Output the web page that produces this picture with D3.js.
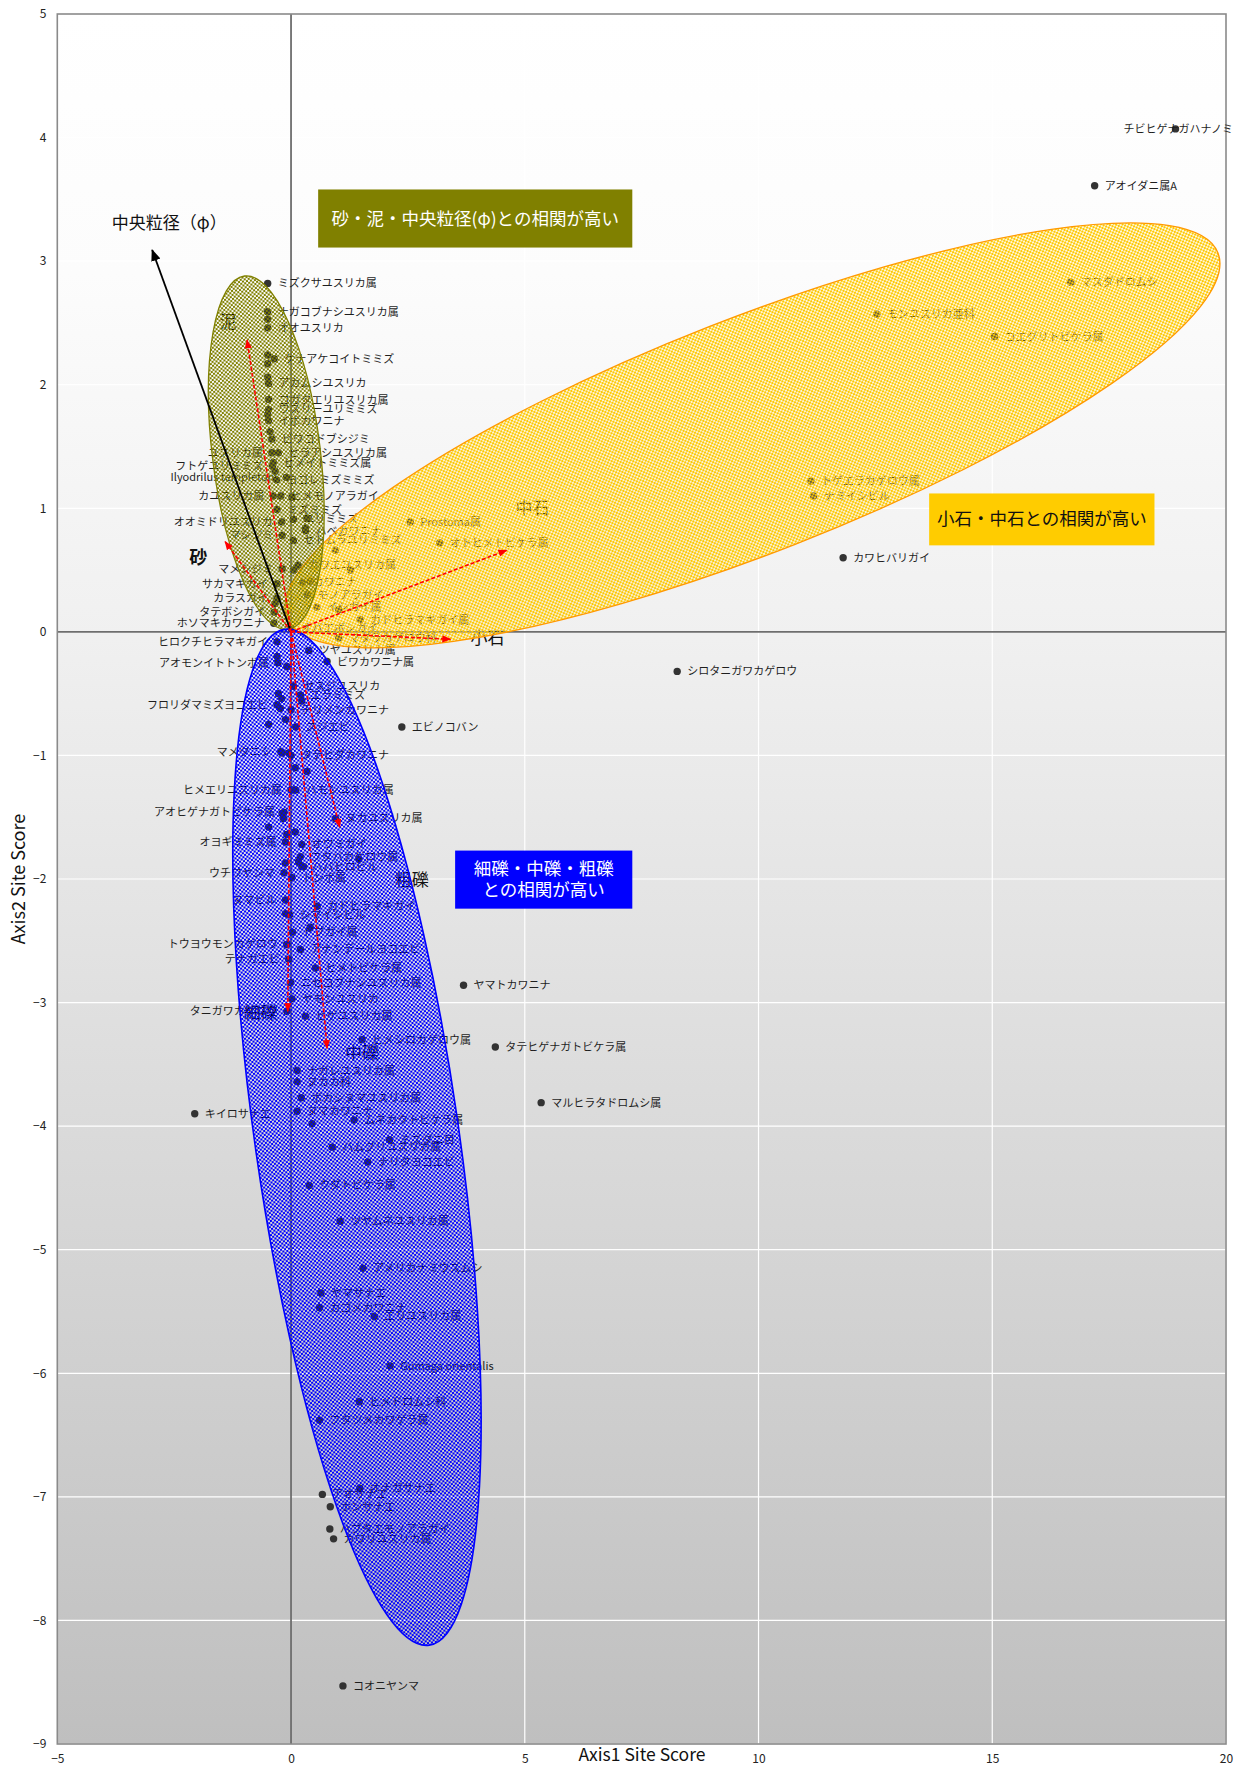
<!DOCTYPE html>
<html>
<head>
<meta charset="utf-8">
<script src="https://cdn.jsdelivr.net/npm/d3@7"></script>
<style>
  body { margin: 0; background: #ffffff; }
  svg text { font-family: "Noto Sans CJK JP", "Noto Sans", sans-serif; }
</style>
</head>
<body>
<svg id="chart" width="1242" height="1767"></svg>
<script>
// ---- species site scores (Axis1, Axis2) ----
const speciesNames = [
  "ミズクサユスリカ属","ナガコブナシユスリカ属","オオユスリカ","ケナアケコイトミミズ","アカムシユスリカ",
  "コガタエリユスリカ属","ウスリーユリミミズ","イボカワニナ","ビワコドブシジミ","ヒラアシユスリカ属",
  "ユスリカ属","ヒメイトミミズ属","フトゲユリミミズ","Ilyodrilus templetoni","ヨゴレミズミミズ",
  "カユスリカ属","ヒメモノアラガイ","ミズミミズ","ユリミミズ","オオミドリユスリカ",
  "ハベカワニナ","セトムラユリミミズ","マシジミ","カワエユスリカ属","マメシジミ",
  "サカマキガイ","カワニナ","カラスガイ","モノアラガイ","タテボシガイ",
  "イシガイ属","カドヒラマキガイ属","ホソマキカワニナ","オバエボシガイ","マダラカゲロウ科",
  "ヒロクチヒラマキガイ","ツヤユスリカ属","ビワカワニナ属","アオモンイトトンボ属","セスジユスリカ",
  "エラミミズ","フロリダマミズヨコエビ","チリメンカワニナ","スジエビ","エビノコバン",
  "マメタニシ","タテヒダカワニナ","ヒメエリユスリカ属","ハモンユスリカ属","アオヒゲナガトビケラ属",
  "ヌカユスリカ属","オヨギミミズ属","オウミガイ","フタバカゲロウ属","ハバヒロビル",
  "ウチワヤンマ","トンボ属","ヌマビル","カドヒラマキガイ","シマイシビル",
  "ドブガイ属","トウヨウモンカゲロウ","アナンデールヨコエビ","テナガエビ","ヒメトビケラ属",
  "ニセコブナシユスリカ属","ヤモンユスリカ","タニガワカゲロウ","ヒゲユスリカ属","ヒメシロカゲロウ属",
  "ナガレユスリカ属","ヌカカ科","ボカシヌマユスリカ属","ヌマカワニナ","ムネカクトビケラ属",
  "ミズダニ目","ハムグリユスリカ属","ナリタヨコエビ","クダトビケラ属","ツヤムネユスリカ属",
  "アメリカナミウズムシ","ヤマサナエ","カゴメカワニナ","エリユスリカ属","Gumaga orientalis",
  "ヒメドロムシ科","フタツメカワゲラ属","オナガサナエ","アオサナエ","ホンサナエ",
  "ハブタエモノアラガイ","カワリユスリカ属","コオニヤンマ","キイロサナエ","ヤマトカワニナ",
  "タテヒゲナガトビケラ属","マルヒラタドロムシ属","シロタニガワカゲロウ","カワヒバリガイ","ナミイシビル",
  "トゲエラカゲロウ属","Prostoma属","オトヒメトビケラ属","モンユスリカ亜科","マスダドロムシ",
  "コエグリトビケラ属","アオイダニ属A","チビヒゲナガハナノミ"
];
const axis1Scores = [
  -0.50,-0.50,-0.50,-0.36,-0.48,
  -0.48,-0.48,-0.48,-0.41,-0.27,
  -0.41,-0.38,-0.40,-0.10,-0.31,
  -0.38,-0.22,-0.30,0.05,-0.20,
  0.31,0.05,-0.19,0.15,-0.19,
  -0.30,0.25,-0.30,0.35,-0.36,
  0.55,1.48,-0.37,0.00,1.02,
  -0.30,0.38,0.77,-0.28,0.05,
  0.20,-0.30,0.00,0.10,2.37,
  -0.22,0.00,0.00,0.10,-0.15,
  0.95,-0.12,0.23,0.20,0.23,
  -0.15,0.02,-0.12,0.56,-0.03,
  0.03,-0.09,0.20,-0.05,0.52,
  -0.01,0.02,-0.09,0.31,1.52,
  0.13,0.13,0.22,0.13,1.35,
  2.11,0.88,1.64,0.39,1.05,
  1.54,0.64,0.61,1.78,2.12,
  1.46,0.61,1.47,0.67,0.84,
  0.83,0.91,1.11,-2.06,3.69,
  4.37,5.35,8.26,11.81,11.18,
  11.12,2.55,3.18,12.53,16.68,
  15.05,17.19,18.92
];
const axis2Scores = [
  2.82,2.59,2.46,2.21,2.01,
  1.88,1.80,1.71,1.56,1.45,
  1.45,1.37,1.34,1.25,1.23,
  1.10,1.10,0.99,0.91,0.89,
  0.82,0.74,0.78,0.54,0.51,
  0.39,0.40,0.27,0.30,0.16,
  0.20,0.10,0.07,0.03,-0.05,
  -0.08,-0.15,-0.24,-0.25,-0.44,
  -0.51,-0.59,-0.63,-0.77,-0.77,
  -0.97,-1.00,-1.28,-1.28,-1.46,
  -1.51,-1.70,-1.72,-1.82,-1.90,
  -1.95,-1.99,-2.17,-2.22,-2.29,
  -2.43,-2.53,-2.57,-2.65,-2.72,
  -2.84,-2.97,-3.07,-3.11,-3.30,
  -3.55,-3.64,-3.77,-3.88,-3.95,
  -4.11,-4.17,-4.29,-4.48,-4.77,
  -5.15,-5.35,-5.47,-5.54,-5.94,
  -6.23,-6.38,-6.93,-6.98,-7.08,
  -7.26,-7.34,-8.53,-3.90,-2.86,
  -3.36,-3.81,-0.32,0.60,1.10,
  1.22,0.89,0.72,2.57,2.83,
  2.39,3.61,4.07
];
// species whose label sits on the left of the point
const leftLabelled = new Set([
  "ユスリカ属","フトゲユリミミズ","Ilyodrilus templetoni","カユスリカ属","オオミドリユスリカ",
  "マシジミ","マメシジミ","サカマキガイ","カラスガイ","タテボシガイ","ホソマキカワニナ",
  "ヒロクチヒラマキガイ","アオモンイトトンボ属","フロリダマミズヨコエビ","マメタニシ",
  "ヒメエリユスリカ属","アオヒゲナガトビケラ属","オヨギミミズ属","ウチワヤンマ","ヌマビル",
  "トウヨウモンカゲロウ","テナガエビ","タニガワカゲロウ"
]);
// further site scores whose labels are hidden under neighbours
const unlabelledAxis1 = [-0.50,-0.50,-0.50,-0.50,-0.50,0.02,0.34,0.31,0.95,1.27,0.06,0.41,-0.34,1.02,
  -0.30,-0.09,-0.27,-0.20,0.23,-0.23,-0.48,-0.12,-0.19,-0.05,0.09,0.34,0.06,-0.19,-0.16,-0.48,0.09,
  -0.09,-0.12,0.27,1.45,0.16,-0.12,0.41,-0.09,0.45,-0.34,-0.45];
const unlabelledAxis2 = [2.53,2.24,2.17,2.06,1.76,1.09,0.92,0.84,0.66,0.50,0.50,0.41,0.23,0.18,
  -0.20,-0.28,-0.50,-0.54,-0.56,-0.62,-0.75,-0.71,-0.98,-0.98,-1.10,-1.13,-1.28,-1.47,-1.51,-1.58,-1.62,
  -1.64,-1.87,-1.90,-1.84,-1.86,-2.28,-2.39,-2.53,-3.98,1.30,1.62];

// ---- environmental vectors ----
const vectorNames = ["中央粒径（φ）","泥","砂","中石","小石","粗礫","細礫","中礫"];
const vectorAxis1 = [-2.97,-0.94,-1.41,4.61,3.41,1.04,-0.07,0.77];
const vectorAxis2 = [3.09,2.36,0.73,0.66,-0.06,-1.58,-3.07,-3.37];

// ---- axis ticks ----
const xTickValues = [-5,0,5,10,15,20];
const yTickValues = [-9,-8,-7,-6,-5,-4,-3,-2,-1,0,1,2,3,4,5];

// ---- layout ----
const plot = {left: 57.3, right: 1226, top: 14, bottom: 1744};
const x = d3.scaleLinear().domain([-5, 20]).range([plot.left, plot.right]);
const y = d3.scaleLinear().domain([-9, 5]).range([plot.bottom, plot.top]);

const svg = d3.select("#chart");
const defs = svg.append("defs");

// background gradient of the plot area
const grad = defs.append("linearGradient").attr("id", "bg").attr("x1", 0).attr("y1", 0).attr("x2", 0).attr("y2", 1);
grad.append("stop").attr("offset", "0%").attr("stop-color", "#ffffff");
grad.append("stop").attr("offset", "15%").attr("stop-color", "#fcfcfc");
grad.append("stop").attr("offset", "36%").attr("stop-color", "#f0f0f0");
grad.append("stop").attr("offset", "100%").attr("stop-color", "#bfbfbf");

// pixel trellis fills for the grouping ellipses (diagonal cross in a 4x4 cell)
function trellis(id, color, holeTint) {
  const p = defs.append("pattern").attr("id", id)
    .attr("patternUnits", "userSpaceOnUse").attr("width", 4).attr("height", 4);
  if (holeTint) p.append("rect").attr("width", 4).attr("height", 4)
    .attr("fill", holeTint).attr("fill-opacity", 0.25);
  const cells = [[0,0],[1,1],[2,2],[3,3],[0,3],[1,2],[2,1],[3,0]];
  cells.forEach(([i, j]) => p.append("rect").attr("x", i).attr("y", j)
    .attr("width", 1).attr("height", 1).attr("fill", color).attr("shape-rendering", "crispEdges"));
}
trellis("hatchOlive", "#808000");
trellis("hatchBlue", "#0000ff");
trellis("hatchGold", "#ffc800", "#ffe680");

// arrow markers
function marker(id, color, size) {
  defs.append("marker").attr("id", id)
    .attr("viewBox", "0 0 10 10").attr("refX", 9).attr("refY", 5)
    .attr("markerUnits", "userSpaceOnUse")
    .attr("markerWidth", size).attr("markerHeight", size).attr("orient", "auto")
    .append("path").attr("d", "M0,1 L10,5 L0,9 Z").attr("fill", color);
}
marker("arrowBlack", "#000000", 12);
marker("arrowRed", "#ff0000", 9);

// plot background
svg.append("rect")
  .attr("x", plot.left).attr("y", plot.top)
  .attr("width", plot.right - plot.left).attr("height", plot.bottom - plot.top)
  .attr("fill", "url(#bg)");

// grid
const grid = svg.append("g").attr("stroke", "#ffffff").attr("stroke-width", 1.2);
yTickValues.forEach(v => grid.append("line")
  .attr("x1", plot.left).attr("x2", plot.right).attr("y1", y(v)).attr("y2", y(v)));
xTickValues.filter(v => v !== 0).forEach(v => grid.append("line")
  .attr("x1", x(v)).attr("x2", x(v)).attr("y1", plot.top).attr("y2", plot.bottom));

// zero lines
svg.append("line").attr("x1", x(0)).attr("x2", x(0)).attr("y1", plot.top).attr("y2", plot.bottom)
  .attr("stroke", "#6e6e6e").attr("stroke-width", 1.8);
svg.append("line").attr("x1", plot.left).attr("x2", plot.right).attr("y1", y(0)).attr("y2", y(0))
  .attr("stroke", "#6e6e6e").attr("stroke-width", 1.8);

// plot frame
svg.append("rect")
  .attr("x", plot.left).attr("y", plot.top)
  .attr("width", plot.right - plot.left).attr("height", plot.bottom - plot.top)
  .attr("fill", "none").attr("stroke", "#8a8a8a").attr("stroke-width", 1.6);

// axes (tick labels only)
const fmt = d => d < 0 ? "\u2212" + Math.abs(d) : String(d);
const gx = svg.append("g").attr("transform", `translate(0,${plot.bottom})`)
  .call(d3.axisBottom(x).tickValues(xTickValues).tickSize(0).tickPadding(10).tickFormat(fmt));
const gy = svg.append("g").attr("transform", `translate(${plot.left},0)`)
  .call(d3.axisLeft(y).tickValues(yTickValues).tickSize(0).tickPadding(11).tickFormat(fmt));
[gx, gy].forEach(g => {
  g.select(".domain").remove();
  g.selectAll("text").attr("font-family", "'Liberation Sans', Arial, sans-serif")
    .attr("font-size", 12).attr("fill", "#222");
});

// axis titles
svg.append("text").attr("x", 642).attr("y", 1761).attr("text-anchor", "middle")
  .attr("font-size", 17.5).attr("fill", "#111").text("Axis1 Site Score");
svg.append("text").attr("transform", `translate(25,${(plot.top + plot.bottom) / 2}) rotate(-90)`)
  .attr("text-anchor", "middle").attr("font-size", 18).attr("fill", "#111").text("Axis2 Site Score");

// species points
const species = speciesNames.map((n, i) => ({name: n, a1: axis1Scores[i], a2: axis2Scores[i]}));
const extras = unlabelledAxis1.map((v, i) => ({a1: v, a2: unlabelledAxis2[i]}));

const gPts = svg.append("g").attr("fill", "#333333");
extras.forEach(d => gPts.append("circle").attr("cx", x(d.a1)).attr("cy", y(d.a2)).attr("r", 3.7));
species.forEach(d => gPts.append("circle").attr("cx", x(d.a1)).attr("cy", y(d.a2)).attr("r", 3.7));

const gLab = svg.append("g").attr("font-size", 11).attr("fill", "#1e1e1e");
species.forEach(d => {
  const left = leftLabelled.has(d.name);
  const t = gLab.append("text")
    .attr("x", x(d.a1) + (left ? -9 : 10))
    .attr("y", y(d.a2) + 4)
    .attr("text-anchor", left ? "end" : "start")
    .text(d.name);
  if (!left) {
    const w = t.node().getComputedTextLength();
    if (x(d.a1) + 10 + w > plot.right + 7) t.attr("x", plot.right + 7 - w);
  }
});

// vector names (drawn under the ellipses)
const vectorLabelNudge = {
  "中央粒径（φ）": [17, -21], "泥": [-19, -12], "砂": [-27, 22], "中石": [26, -36],
  "小石": [37, 5], "粗礫": [72, 59], "細礫": [-27, 8], "中礫": [35, 11]
};
const vectors = vectorNames.map((n, i) => ({name: n, a1: vectorAxis1[i], a2: vectorAxis2[i]}));
vectors.forEach(d => {
  const [dx, dy] = vectorLabelNudge[d.name];
  svg.append("text").attr("x", x(d.a1) + dx).attr("y", y(d.a2) + dy)
    .attr("text-anchor", "middle").attr("font-size", d.name === "砂" ? 18 : 17)
    .attr("font-weight", d.name === "砂" ? 700 : 400)
    .attr("fill", "#111").text(d.name);
});

// grouping ellipses (centre in scores, semi-axes in px, tilt in degrees)
const groups = [
  {fill: "url(#hatchGold)", stroke: "#ff9900", c: [9.87, 1.59], rx: 500, ry: 117, tilt: -21.4, sw: 1.3},
  {fill: "url(#hatchOlive)", stroke: "#808000", c: [-0.53, 1.45], rx: 54, ry: 178, tilt: -7, sw: 1.3},
  {fill: "url(#hatchBlue)", stroke: "#0000ff", c: [1.41, -4.09], rx: 102, ry: 513, tilt: -8.1, sw: 1.6}
];
groups.forEach(g => {
  const cx = x(g.c[0]), cy = y(g.c[1]);
  svg.append("ellipse").attr("cx", cx).attr("cy", cy).attr("rx", g.rx).attr("ry", g.ry)
    .attr("transform", `rotate(${g.tilt},${cx},${cy})`)
    .attr("fill", g.fill).attr("stroke", g.stroke).attr("stroke-width", g.sw);
});

// environmental vectors from the origin
vectors.forEach(d => {
  const black = d.name === "中央粒径（φ）";
  svg.append("line").attr("x1", x(0)).attr("y1", y(0)).attr("x2", x(d.a1)).attr("y2", y(d.a2))
    .attr("stroke", black ? "#000" : "#ff0000")
    .attr("stroke-width", black ? 1.8 : 1.6)
    .attr("stroke-dasharray", black ? null : "4,2")
    .attr("marker-end", black ? "url(#arrowBlack)" : "url(#arrowRed)");
});

// callout boxes
const callouts = [
  {x0: 0.58, x1: 7.30, y0: 3.58, y1: 3.11, fill: "#808000", color: "#ffffff",
   lines: ["砂・泥・中央粒径(φ)との相関が高い"]},
  {x0: 13.65, x1: 18.47, y0: 1.12, y1: 0.70, fill: "#ffcc00", color: "#111111",
   lines: ["小石・中石との相関が高い"]},
  {x0: 3.51, x1: 7.30, y0: -1.77, y1: -2.24, fill: "#0000ff", color: "#ffffff",
   lines: ["細礫・中礫・粗礫", "との相関が高い"]}
];
callouts.forEach(c => {
  const bx = x(c.x0), by = y(c.y0), bw = x(c.x1) - x(c.x0), bh = y(c.y1) - y(c.y0);
  svg.append("rect").attr("x", bx).attr("y", by).attr("width", bw).attr("height", bh).attr("fill", c.fill);
  const lh = 21;
  const startY = by + bh / 2 - (c.lines.length - 1) * lh / 2 + 6;
  c.lines.forEach((ln, i) => svg.append("text")
    .attr("x", bx + bw / 2).attr("y", startY + i * lh)
    .attr("text-anchor", "middle").attr("font-size", 17.5).attr("fill", c.color).text(ln));
});
</script>
</body>
</html>
